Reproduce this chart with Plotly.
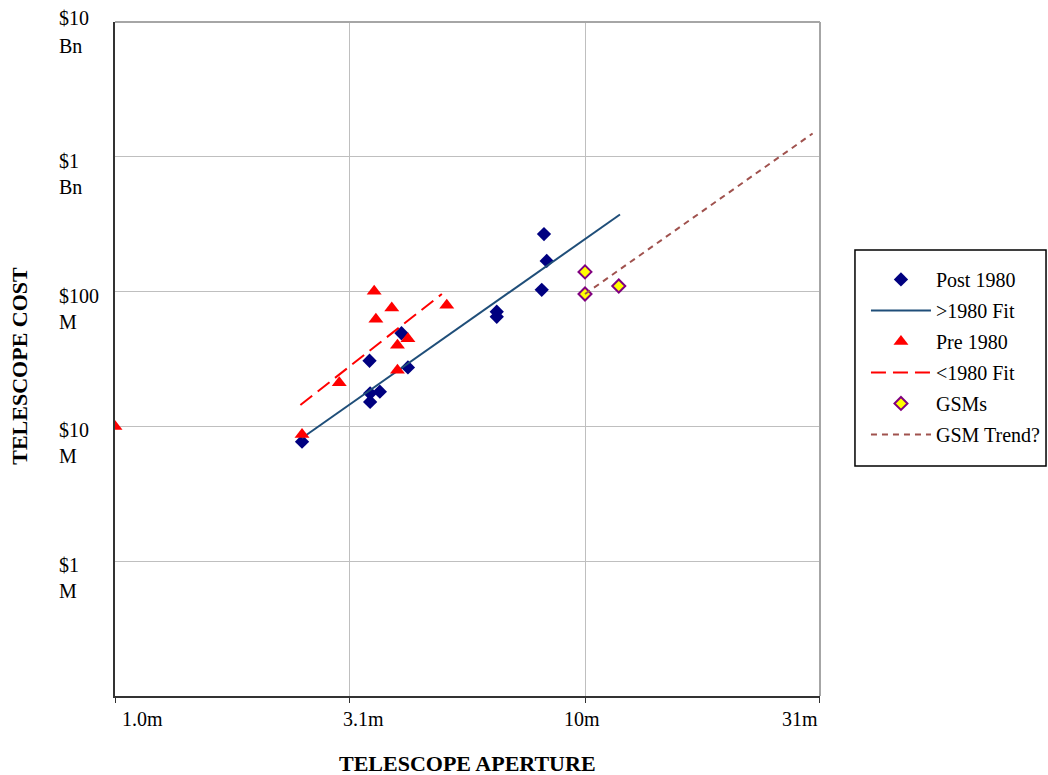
import math
import plotly.graph_objects as go

# ---- data (aperture in metres, cost in $ millions) ----
post_x = [2.50, 3.48, 3.49, 3.49, 3.66, 4.07, 4.20, 6.49, 6.49, 8.09, 8.18, 8.29]
post_y = [7.7, 30.7, 17.6, 15.2, 18.1, 49.1, 27.4, 71.0, 65.1, 103, 267, 169]

pre_x = [1.0, 2.50, 3.00, 3.56, 3.59, 3.88, 3.99, 3.99, 4.20, 5.08]
pre_y = [10.0, 8.7, 21.1, 100.5, 62.3, 75.5, 40.0, 26.1, 44.7, 79.1]

gsm_x = [10.0, 10.0, 11.8]
gsm_y = [140, 96, 110]

fit_post_x = [2.50, 11.87]
fit_post_y = [8.2, 373]

fit_pre_x = [2.48, 4.96]
fit_pre_y = [14.4, 96]

gsm_trend_x = [10.0, 30.5]
gsm_trend_y = [96, 1489]

x_tick_vals = [1.0, 3.16, 10.0, 31.6]
x_tick_text = ["1.0m", "3.1m", "10m", "31m"]
y_tick_vals = [10000, 1000, 100, 10, 1]
y_tick_line1 = ["$10", "$1", "$100", "$10", "$1"]
y_tick_line2 = ["Bn", "Bn", "M", "M", "M"]

FONT = "Liberation Serif, Times New Roman, serif"

fig = go.Figure()

fig.add_trace(go.Scatter(x=post_x, y=post_y, mode="markers", name="Post 1980",
                         legendgroup="a",
                         marker=dict(symbol="diamond", size=11, color="#000080",
                                     line=dict(width=0))))
fig.add_trace(go.Scatter(x=fit_post_x, y=fit_post_y, mode="lines", name=">1980 Fit",
                         legendgroup="b",
                         line=dict(color="#1F4E79", width=2)))
fig.add_trace(go.Scatter(x=pre_x, y=pre_y, mode="markers", name="Pre 1980",
                         legendgroup="c",
                         marker=dict(symbol="triangle-up", size=13, color="#FF0000",
                                     line=dict(width=0))))
fig.add_trace(go.Scatter(x=fit_pre_x, y=fit_pre_y, mode="lines", name="<1980 Fit",
                         legendgroup="d",
                         line=dict(color="#FF0000", width=2, dash="15px,7px")))
fig.add_trace(go.Scatter(x=gsm_x, y=gsm_y, mode="markers", name="GSMs",
                         legendgroup="e",
                         marker=dict(symbol="diamond", size=10, color="#FFFF00",
                                     line=dict(width=2, color="#800080"))))
fig.add_trace(go.Scatter(x=gsm_trend_x, y=gsm_trend_y, mode="lines", name="GSM Trend?",
                         legendgroup="f",
                         line=dict(color="#A0524E", width=2, dash="6px,5px")))

annotations = []
tick_font = dict(family=FONT, size=20, color="#000")
title_font = dict(family=FONT, size=22, color="#000")
# y tick labels (two lines, left aligned) -- log axes take log10 positions
for i, (v, l1, l2) in enumerate(zip(y_tick_vals, y_tick_line1, y_tick_line2)):
    s1, s2 = (-4, -30) if i > 0 else (4, -24)
    annotations.append(dict(x=-0.0823, xref="paper", y=math.log10(v), yref="y", text=l1,
                            xanchor="left", yanchor="middle", yshift=s1,
                            showarrow=False, font=tick_font))
    annotations.append(dict(x=-0.0823, xref="paper", y=math.log10(v), yref="y", text=l2,
                            xanchor="left", yanchor="middle", yshift=s2,
                            showarrow=False, font=tick_font))
# x tick labels
x_shifts = [5, 14, -3, 0]
for i, (v, t) in enumerate(zip(x_tick_vals, x_tick_text)):
    anchor = "left" if i == 0 else ("right" if i == len(x_tick_vals) - 1 else "center")
    annotations.append(dict(x=math.log10(v), xref="x", y=0, yref="paper", text=t,
                            xanchor=anchor, yanchor="middle", yshift=-23, xshift=x_shifts[i],
                            showarrow=False, font=tick_font))
# axis titles
annotations.append(dict(x=0.5, xref="paper", y=0, yref="paper", text="<b>TELESCOPE APERTURE</b>",
                        xanchor="center", yanchor="middle", yshift=-67, showarrow=False,
                        font=title_font))
annotations.append(dict(x=0, xref="paper", y=0.49, yref="paper", text="<b>TELESCOPE COST</b>",
                        xanchor="center", yanchor="middle", xshift=-95, textangle=-90,
                        showarrow=False, font=title_font))

fig.update_layout(
    width=1048, height=775,
    margin=dict(l=115, r=228, t=22, b=79, autoexpand=False),
    paper_bgcolor="white", plot_bgcolor="white",
    font=dict(family=FONT, size=20, color="#000"),
    showlegend=True,
    legend=dict(x=1.0652, y=0.647, xanchor="left", yanchor="top",
                borderwidth=0, bgcolor="rgba(0,0,0,0)",
                font=dict(family=FONT, size=20, color="#000"),
                traceorder="grouped", tracegroupgap=2, itemwidth=60),
    annotations=annotations,
)

fig.update_xaxes(type="log", range=[0, 1.5], tickvals=x_tick_vals, showticklabels=False,
                 showgrid=True, gridcolor="#BFBFBF", gridwidth=1,
                 showline=True, linecolor="#333", linewidth=1.5,
                 ticks="outside", ticklen=5, tickcolor="#333",
                 zeroline=False)
fig.update_yaxes(type="log", range=[-1, 4], tickvals=y_tick_vals, showticklabels=False,
                 showgrid=True, gridcolor="#BFBFBF", gridwidth=1,
                 showline=True, linecolor="#333", linewidth=1.5,
                 ticks="", zeroline=False)

# gray frame on top and right
fig.add_shape(type="line", xref="paper", yref="paper", x0=0, x1=1, y0=1, y1=1,
              line=dict(color="#A6A6A6", width=2))
fig.add_shape(type="line", xref="paper", yref="paper", x0=1, x1=1, y0=0, y1=1,
              line=dict(color="#A6A6A6", width=2))
# legend frame
fig.add_shape(type="rect", xref="paper", yref="paper",
              x0=1.0496, x1=1.3206, y0=0.3412, y1=0.6617,
              line=dict(color="#000", width=1.5), fillcolor="rgba(0,0,0,0)")

fig.write_html("out.html", config={"displayModeBar": False},
               post_script="document.body.style.margin='0px';document.body.style.overflow='hidden';")
